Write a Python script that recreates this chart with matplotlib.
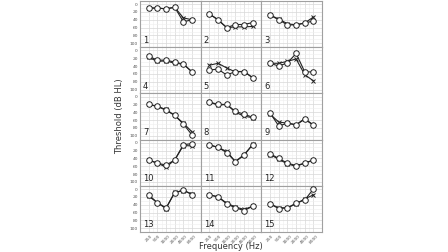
import matplotlib.pyplot as plt
import numpy as np

# audiogram data, 15 subjects, two ears
freqs = ['250', '500', '1000', '2000', '4000', '8000']
yticks = [0, 20, 40, 60, 80, 100]

ear_o = [
    [10, 10, 12, 8, 45, 40],
    [25, 40, 60, 52, 52, 47],
    [28, 40, 53, 53, 48, 43],
    [15, 25, 25, 30, 35, 55],
    [50, 48, 63, 54, 54, 70],
    [33, 40, 32, 8, 55, 55],
    [20, 25, 35, 48, 70, 98],
    [14, 20, 20, 38, 45, 53],
    [42, 75, 68, 72, 56, 73],
    [44, 52, 57, 44, 5, 2],
    [5, 12, 25, 48, 30, 5],
    [28, 40, 52, 58, 52, 44],
    [15, 35, 48, 10, 2, 15],
    [15, 20, 38, 48, 55, 44],
    [38, 50, 48, 36, 28, 0],
]
ear_x = [
    [10, 10, 12, 8, 35, 40],
    [25, 40, 60, 58, 58, 57],
    [28, 38, 50, 53, 48, 33],
    [18, 28, 27, 33, 35, 55],
    [38, 33, 45, 55, 54, 70],
    [33, 33, 28, 22, 62, 78],
    [20, 25, 33, 48, 68, 90],
    [14, 22, 20, 40, 50, 54],
    [45, 65, 68, 72, 58, 73],
    [44, 52, 62, 44, 7, 8],
    [5, 12, 22, 48, 32, 4],
    [30, 42, 54, 60, 52, 44],
    [18, 35, 50, 8, 5, 12],
    [15, 20, 36, 46, 52, 44],
    [38, 48, 48, 38, 25, 15],
]

fig, axes = plt.subplots(5, 3, figsize=(4.48, 2.52), dpi=100, sharex=True, sharey=True)
fig.subplots_adjust(left=0.3125, right=0.719, top=0.996, bottom=0.079, hspace=0, wspace=0)

xs = np.arange(len(freqs))
for i, ax in enumerate(axes.flat):
    ax.plot(xs, ear_x[i], color='#222222', lw=0.8, marker='x', ms=3, mew=0.7, zorder=3)
    ax.plot(xs, ear_o[i], color='#222222', lw=0.8, marker='o', ms=4, mfc='white',
            mec='#222222', mew=0.7, zorder=4)
    ax.set_xlim(-1, 6)
    ax.set_ylim(110, -8)
    ax.set_xticks(xs)
    ax.set_yticks(yticks)
    ax.set_yticks([10, 30, 50, 70, 90], minor=True)
    ax.set_xticks(xs[:-1] + 0.5, minor=True)
    ax.grid(True, which='major', color='#d8d8d8', lw=0.5)
    ax.grid(True, which='minor', color='#eeeeee', lw=0.4)
    ax.set_axisbelow(True)
    for s in ax.spines.values():
        s.set_color('#a0a0a0')
        s.set_linewidth(0.8)
    ax.tick_params(which='both', length=0, labelsize=3.2, colors='#555555', pad=1.5)
    ax.text(0.05, 0.1, str(i + 1), transform=ax.transAxes, fontsize=6, color='#222222')

axes[-1, 0].set_xticklabels(freqs, rotation=45)
for ax in axes[-1]:
    ax.set_xticklabels(freqs, rotation=45)

fig.text(0.267, 0.54, 'Threshold (dB HL)', rotation=90, fontsize=6, color='#333333',
         ha='center', va='center')
fig.text(0.516, 0.022, 'Frequency (Hz)', fontsize=6, color='#333333', ha='center', va='center')

plt.savefig('out.png', dpi=100)
